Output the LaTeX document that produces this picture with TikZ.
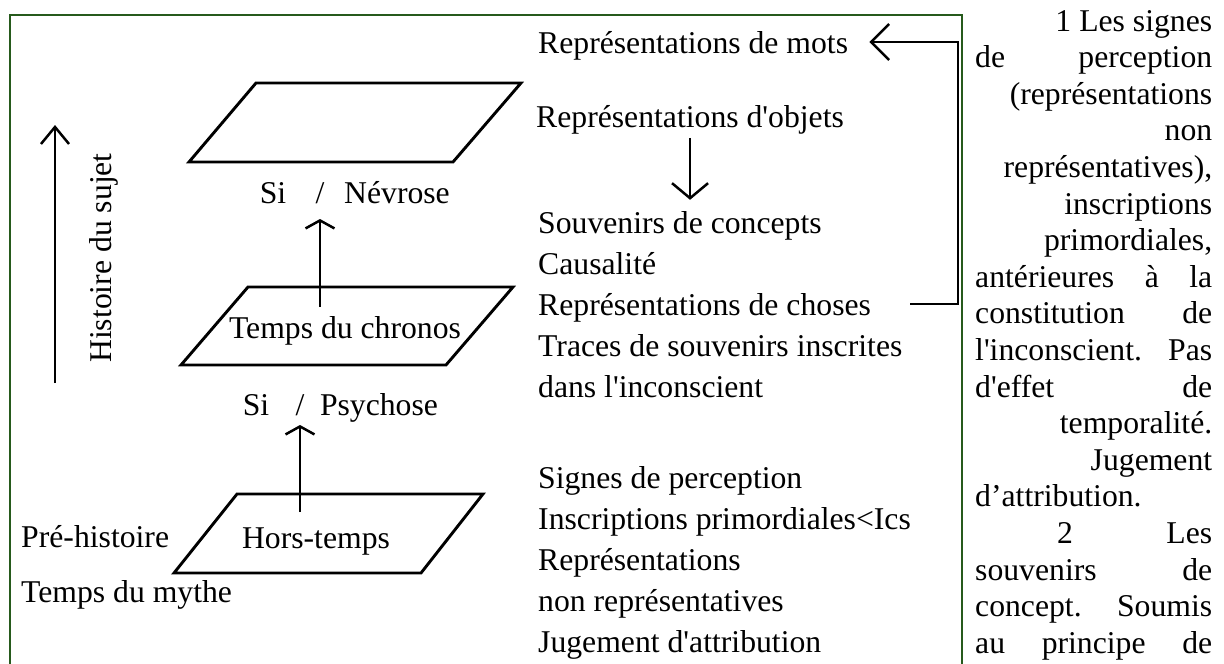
\documentclass[tikz,border=0pt]{standalone}
\usepackage{fontspec}
\newfontfamily\docfont{Liberation Serif}
\usepackage{tikz}
\usetikzlibrary{arrows.meta}
\usepackage{xcolor}
\definecolor{framegreen}{RGB}{38,90,28}

\tikzset{
  plane/.style={line width=2.9pt, line join=miter},
  rise/.style={line width=2.5pt, -{Straight Barb[length=8pt,width=29pt]}},
  longrise/.style={line width=2.5pt, -{Straight Barb[length=17pt,width=28pt]}},
  fall/.style={line width=2.5pt, -{Straight Barb[length=15pt,width=36pt]}},
  back/.style={line width=2.5pt, -{Straight Barb[length=18pt,width=36pt]}},
  para/.style={anchor=base west}
}

\begin{document}
\begin{tikzpicture}[x=1pt, y=-1pt, every node/.style={inner sep=0pt, font=\docfont\fontsize{31.7}{38}\selectfont}]
    \useasboundingbox (0,0) rectangle (1224,664);
    % frame
    \draw[framegreen, line width=2pt] (10,670) |- (962,15) -- (962,670);
    % planes
    \draw[plane] (256,83) -- (521,83) -- (453,162) -- (189,162) -- cycle;
    \draw[plane] (248,287) -- (513,287) -- (446,365) -- (181,365) -- cycle;
    \draw[plane] (237,494) -- (483,494) -- (421,573) -- (174,573) -- cycle;
    \node[anchor=base] (chronos) at (345,338) {Temps du chronos};
    \node[anchor=base] (hors)    at (316,548) {Hors-temps};
    \node[anchor=base] (siN)     at (273,203) {Si};
    \node[anchor=base] (slashN)  at (320,203) {/};
    \node[anchor=base] (nevrose) at (397,203) {Névrose};
    \node[anchor=base] (siP)     at (256,415) {Si};
    \node[anchor=base] (slashP)  at (300,415) {/};
    \node[anchor=base] (psychose) at (379,415) {Psychose};
    \node[para] (prehist) at (21,547) {Pré-histoire};
    \node[para] (mythe)   at (21,602) {Temps du mythe};
    \node[rotate=90, anchor=base] (hist) at (111,258) {Histoire du sujet};
    \coordinate (histlow)  at (55,383);
    \coordinate (histhigh) at (55,125);
    \draw[longrise] (histlow) -- (histhigh);
    \draw[rise] ([yshift=9pt]chronos.north -| slashN) -- ([yshift=-16pt]slashN.base);
    \draw[rise] ([yshift=15pt]hors.north -| slashP) -- ([yshift=-10pt]slashP.base);
    % middle column
    \node[para] (mots)      at (538,53)  {Représentations de mots};
    \node[para] (objets)    at (536,127) {Représentations d'objets};
    \node[para] (souvenirs) at (538,233) {Souvenirs de concepts};
    \node[para] (causalite) at (538,274) {Causalité};
    \node[para] (choses)    at (538,315) {Représentations de choses};
    \node[para] (traces)    at (538,356) {Traces de souvenirs inscrites};
    \node[para] (dans)      at (538,397) {dans l'inconscient};
    \node[para] (signes)    at (538,488) {Signes de perception};
    \node[para] (inscr)     at (538,529) {Inscriptions primordiales<Ics};
    \node[para] (reprs)     at (538,570) {Représentations};
    \node[para] (nonrep)    at (538,611) {non représentatives};
    \node[para] (jugement)  at (538,652) {Jugement d'attribution};
    \draw[fall] ([yshift=-4pt]objets.south) -- ([yshift=11pt]objets.south |- souvenirs.north);
    \coordinate (chosesout) at ([xshift=39pt,yshift=11pt]choses.base east);
    \coordinate (motsin)    at ([xshift=21pt,yshift=11pt]mots.base east);
    \coordinate (rail)      at (958,0);
    \draw[back] (chosesout) -| (rail |- motsin) -- (motsin);
    % right column
    \node[para] (p0)  at (975,31)    {\makebox[237pt][r]{1 Les signes}};
    \node[para] (p1)  at (975,67.6)  {\makebox[237pt][s]{de perception}};
    \node[para] (p2)  at (975,104.2) {\makebox[237pt][r]{(représentations}};
    \node[para] (p3)  at (975,140.8) {\makebox[237pt][r]{non}};
    \node[para] (p4)  at (975,177.4) {\makebox[237pt][r]{représentatives),}};
    \node[para] (p5)  at (975,214)   {\makebox[237pt][r]{inscriptions}};
    \node[para] (p6)  at (975,250.6) {\makebox[237pt][r]{primordiales,}};
    \node[para] (p7)  at (975,287.2) {\makebox[237pt][s]{antérieures à la}};
    \node[para] (p8)  at (975,323.8) {\makebox[237pt][s]{constitution de}};
    \node[para] (p9)  at (975,360.4) {\makebox[237pt][s]{l'inconscient. Pas}};
    \node[para] (p10) at (975,397)   {\makebox[237pt][s]{d'effet de}};
    \node[para] (p11) at (975,433.6) {\makebox[237pt][r]{temporalité.}};
    \node[para] (p12) at (975,470.2) {\makebox[237pt][r]{Jugement}};
    \node[para] (p13) at (975,506.8) {\makebox[237pt][l]{d’attribution.}};
    \node[para] (p14) at (975,543.4) {\makebox[237pt][s]{\hspace*{82pt}2 Les}};
    \node[para] (p15) at (975,580)   {\makebox[237pt][s]{souvenirs de}};
    \node[para] (p16) at (975,616.6) {\makebox[237pt][s]{concept. Soumis}};
    \node[para] (p17) at (975,653.2) {\makebox[237pt][s]{au principe de}};
  \end{tikzpicture}
\end{document}
